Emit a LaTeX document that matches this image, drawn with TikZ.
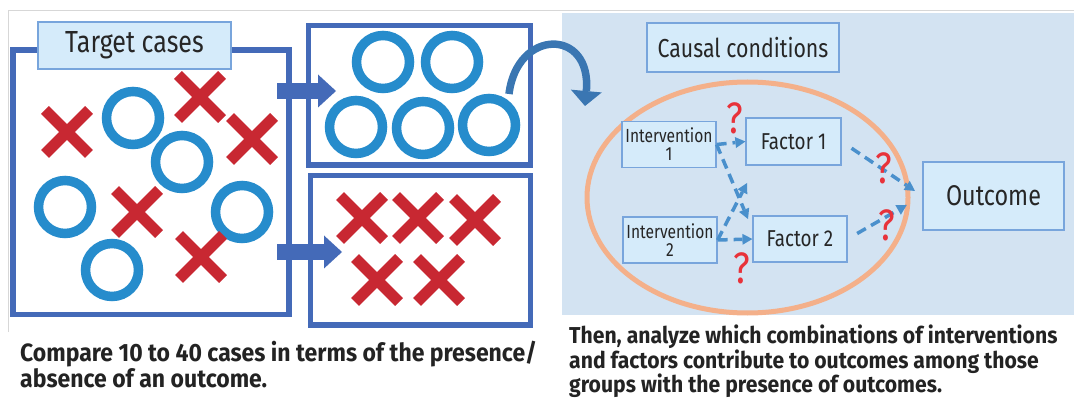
\documentclass[tikz,border=0pt]{standalone}
\usepackage{fontspec}
\setmainfont[FakeStretch=0.82]{Fira Sans}
\newfontfamily\notefont[FakeStretch=0.92]{Fira Sans}
\usetikzlibrary{arrows.meta}
\definecolor{case edge}{RGB}{68,106,184}
\definecolor{ring blue}{RGB}{38,140,204}
\definecolor{cross red}{RGB}{200,40,50}
\definecolor{tag area}{RGB}{213,235,250}
\definecolor{tag edge}{RGB}{120,165,220}
\definecolor{panel area}{RGB}{211,227,242}
\definecolor{oval edge}{RGB}{244,176,138}
\definecolor{dash blue}{RGB}{74,144,204}
\definecolor{query red}{RGB}{232,50,58}
\definecolor{bend blue}{RGB}{58,118,178}
\definecolor{frame gray}{RGB}{215,215,215}
\definecolor{note text}{RGB}{35,35,35}
\def\crossarms{++(-22,-22) -- ++(44,44) ++(0,-44) -- ++(-44,44)}
\def\caseoval{(747.5,197.5) ellipse [x radius=160.5pt, y radius=115.5pt]}
\tikzset{casebox/.style={draw=case edge, line width=5.5pt, inner sep=0pt},
  ring/.style={circle, draw=ring blue, line width=9.5pt, minimum size=53pt, inner sep=0pt},
  crossmark/.style={draw=cross red, line width=11pt},
  tagbox/.style={rectangle, draw=tag edge, fill=tag area, line width=1.2pt, inner sep=0pt, text=black!85},
  fatarrow/.style={draw=case edge, line width=16pt, -{Triangle[length=18pt,width=33pt,line width=0pt]}},
  bendarrow/.style={draw=bend blue, line width=7.5pt, -{Triangle[length=15pt,width=31pt,line width=0pt]}},
  dasharrow/.style={draw=dash blue, line width=3.5pt, dash pattern=on 10pt off 6pt, -{Triangle[length=10pt,width=11pt,line width=0pt]}},
  query/.style={text=query red, font=\fontsize{44}{44}\selectfont, inner sep=0pt},
  note/.style={anchor=north west, align=left, inner sep=0pt, text=note text}}

\begin{document}
\begin{tikzpicture}[x=1pt, y=-1pt]
 \useasboundingbox (0,0) rectangle (1074,398);

 % frame and panel
 \draw[frame gray, line width=1pt] (8,332) -- (8,11) -- (1074,11);
 \fill[panel area] (562,13) rectangle (1074,315);

 % all cases
 \node[casebox, minimum width=276pt, minimum height=264.5pt] (allcases) at (151,182.25) {};
 \foreach \p [count=\i] in {(133,118),(182,162),(65,207),(242,212),(112,270)}
  \node[ring] (o\i) at \p {};
 \foreach \p in {(67,132),(200,97),(252,139),(137,212),(201,257)}
  \draw[crossmark] \p \crossarms;
 \node[tagbox, minimum width=193pt, minimum height=47pt, font=\fontsize{30.5}{30}\selectfont] (target) at (134.5,45.5) {Target cases};

 % present / absent
 \node[casebox, minimum width=222pt, minimum height=139.5pt] (present) at (419.5,95.25) {};
 \node[casebox, minimum width=220pt, minimum height=149.5pt] (absent) at (420.5,250.25) {};
 \foreach \p [count=\i] in {(383,62),(452,62),(356,127),(423,128),(489,125)}
  \node[ring] (p\i) at \p {};
 \foreach \p in {(362,218),(418,218),(475,220),(377,280),(439,280)}
  \draw[crossmark] \p \crossarms;

 \coordinate (upfrom) at (277,91);
 \coordinate (upto) at (336,91);
 \coordinate (downfrom) at (277,252);
 \coordinate (downto) at (342,252);
 \draw[fatarrow] (upfrom) -- (upto);
 \draw[fatarrow] (downfrom) -- (downto);

 \coordinate (bendfrom) at (509,94);
 \coordinate (bendto) at (585,106);
 \draw[bendarrow] (bendfrom) .. controls (517,28) and (592,28) .. (bendto);

 % causal conditions
 \draw[oval edge, line width=5pt] \caseoval;
 \node[tagbox, minimum width=192pt, minimum height=49pt, font=\fontsize{26}{26}\selectfont] (causal) at (743,47.5) {Causal conditions};
 \node[tagbox, minimum width=94pt, minimum height=46pt, align=center, font=\fontsize{19}{18}\selectfont] (int1) at (669,144.5) {Intervention\\1};
 \node[tagbox, minimum width=94pt, minimum height=46pt, align=center, font=\fontsize{19}{18}\selectfont] (int2) at (670,240) {Intervention\\2};
 \node[tagbox, minimum width=95pt, minimum height=47pt, font=\fontsize{23}{23}\selectfont] (fac1) at (793.5,141.5) {Factor 1};
 \node[tagbox, minimum width=94pt, minimum height=46pt, font=\fontsize{23}{23}\selectfont] (fac2) at (800,239) {Factor 2};
 \node[tagbox, minimum width=141pt, minimum height=68pt, font=\fontsize{28.5}{28}\selectfont] (outcome) at (993.5,196) {Outcome};

 \coordinate (cross1) at (748,219);
 \coordinate (cross2) at (747,183);
 \draw[dasharrow] (int1.east) -- (fac1.west);
 \draw[dasharrow] (int1.east) -- (cross1);
 \draw[dasharrow] (int2.east) -- (fac2.west);
 \draw[dasharrow] (int2.east) -- (cross2);
 \draw[dasharrow, shorten <=12pt, shorten >=9pt] (fac1.east) -- (outcome.west);
 \draw[dasharrow, shorten <=11pt, shorten >=18pt] (fac2.east) -- (outcome.west);

 \node[query] (q1) at (735,118) {?};
 \node[query] (q2) at (884,168) {?};
 \node[query] (q3) at (887,225) {?};
 \node[query] (q4) at (742,268) {?};

 % notes
 \node[note, font=\notefont\bfseries\fontsize{25}{26}\selectfont] (compare) at (20,341) {Compare 10 to 40 cases in terms of the presence/\\absence of an outcome.};
 \node[note, font=\notefont\bfseries\fontsize{23}{24.5}\selectfont] (analyze) at (569,325) {Then, analyze which combinations of interventions\\and factors contribute to outcomes among those\\groups with the presence of outcomes.};
\end{tikzpicture}
\end{document}
